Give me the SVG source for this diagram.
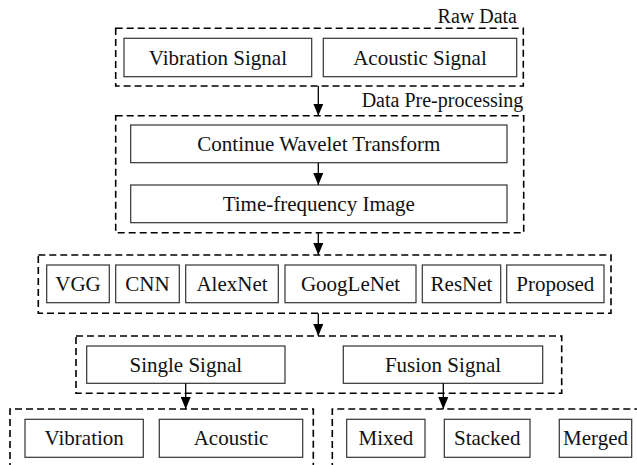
<svg xmlns="http://www.w3.org/2000/svg" width="637" height="465" viewBox="0 0 637 465">
<defs>
<marker id="arr" viewBox="0 0 12 10" refX="12" refY="5" markerWidth="12" markerHeight="10" markerUnits="userSpaceOnUse" orient="auto">
<path d="M0,0 L12,5 L0,10 z" fill="#000"/>
</marker>
</defs>
<style>
.grp{fill:none;stroke:#000;stroke-width:1.6;stroke-dasharray:7,4}
.box{fill:#fff;stroke:#333;stroke-width:1.2}
.t{font-family:"Liberation Serif","Times New Roman",serif;font-size:21px;fill:#111;text-anchor:middle}
.lbl{font-family:"Liberation Serif","Times New Roman",serif;font-size:20px;fill:#111;text-anchor:end}
.con{stroke:#000;stroke-width:1.3;fill:none;marker-end:url(#arr)}
</style>
<rect width="637" height="465" fill="#fff"/>

<g id="raw-data">
<text class="lbl" x="517" y="22.5">Raw Data</text>
<rect class="grp" x="115.7" y="28.3" width="407.6" height="57.7"/>
</g>
<g id="vibration-signal"><rect class="box" x="124" y="38.3" width="187.7" height="38.4"/><text class="t" x="217.9" y="64.5">Vibration Signal</text></g>
<g id="acoustic-signal"><rect class="box" x="323.3" y="38.3" width="193.4" height="38.4"/><text class="t" x="420" y="64.5">Acoustic Signal</text></g>

<g id="pre-processing">
<text class="lbl" x="523.3" y="106.7">Data Pre-processing</text>
<rect class="grp" x="115.7" y="115.7" width="408" height="117"/>
</g>
<g id="cwt"><rect class="box" x="130.7" y="125" width="376.3" height="37.7"/><text class="t" x="318.8" y="151">Continue Wavelet Transform</text></g>
<g id="tfi"><rect class="box" x="130.7" y="185" width="376.3" height="37.7"/><text class="t" x="318.8" y="211">Time-frequency Image</text></g>

<g id="models"><rect class="grp" x="38.3" y="255" width="572.7" height="58.3"/></g>
<g id="vgg"><rect class="box" x="46.7" y="265" width="62.6" height="37.7"/><text class="t" x="78" y="291">VGG</text></g>
<g id="cnn"><rect class="box" x="115.7" y="265" width="63.6" height="37.7"/><text class="t" x="147.5" y="291">CNN</text></g>
<g id="alexnet"><rect class="box" x="185.7" y="265" width="92.6" height="37.7"/><text class="t" x="232" y="291">AlexNet</text></g>
<g id="googlenet"><rect class="box" x="285" y="265" width="131" height="37.7"/><text class="t" x="350.5" y="291">GoogLeNet</text></g>
<g id="resnet"><rect class="box" x="422.3" y="265" width="78.4" height="37.7"/><text class="t" x="461.5" y="291">ResNet</text></g>
<g id="proposed"><rect class="box" x="506.7" y="265" width="97.3" height="37.7"/><text class="t" x="555.3" y="291">Proposed</text></g>

<g id="signal-type"><rect class="grp" x="76" y="336" width="485.7" height="57.3"/></g>
<g id="single-signal"><rect class="box" x="86.7" y="346" width="198.3" height="37.3"/><text class="t" x="185.8" y="371.8">Single Signal</text></g>
<g id="fusion-signal"><rect class="box" x="343.3" y="346" width="199.4" height="37.3"/><text class="t" x="443" y="371.8">Fusion Signal</text></g>

<g id="single-group"><path class="grp" d="M10,470 L10,409 L313.3,409 L313.3,470"/></g>
<g id="vibration"><rect class="box" x="25" y="419.3" width="118.3" height="38"/><text class="t" x="84.2" y="445.3">Vibration</text></g>
<g id="acoustic"><rect class="box" x="159.3" y="419.3" width="143.4" height="38"/><text class="t" x="231" y="445.3">Acoustic</text></g>

<g id="fusion-group"><path class="grp" d="M332.3,470 L332.3,409 L645,409"/></g>
<g id="mixed"><rect class="box" x="346.7" y="419.3" width="78.3" height="38"/><text class="t" x="385.9" y="445.3">Mixed</text></g>
<g id="stacked"><rect class="box" x="444.3" y="419.3" width="85.7" height="38"/><text class="t" x="487.2" y="445.3">Stacked</text></g>
<g id="merged"><rect class="box" x="559.3" y="419.3" width="72.4" height="38"/><text class="t" x="595.5" y="445.3">Merged</text></g>

<g id="connectors">
<line class="con" x1="318.3" y1="86" x2="318.3" y2="115.7"/>
<line class="con" x1="318.3" y1="162.7" x2="318.3" y2="185"/>
<line class="con" x1="318.3" y1="232.7" x2="318.3" y2="255"/>
<line class="con" x1="318.3" y1="313.3" x2="318.3" y2="336"/>
<line class="con" x1="185.7" y1="383.3" x2="185.7" y2="409"/>
<line class="con" x1="443.3" y1="383.3" x2="443.3" y2="409"/>
</g>
</svg>
